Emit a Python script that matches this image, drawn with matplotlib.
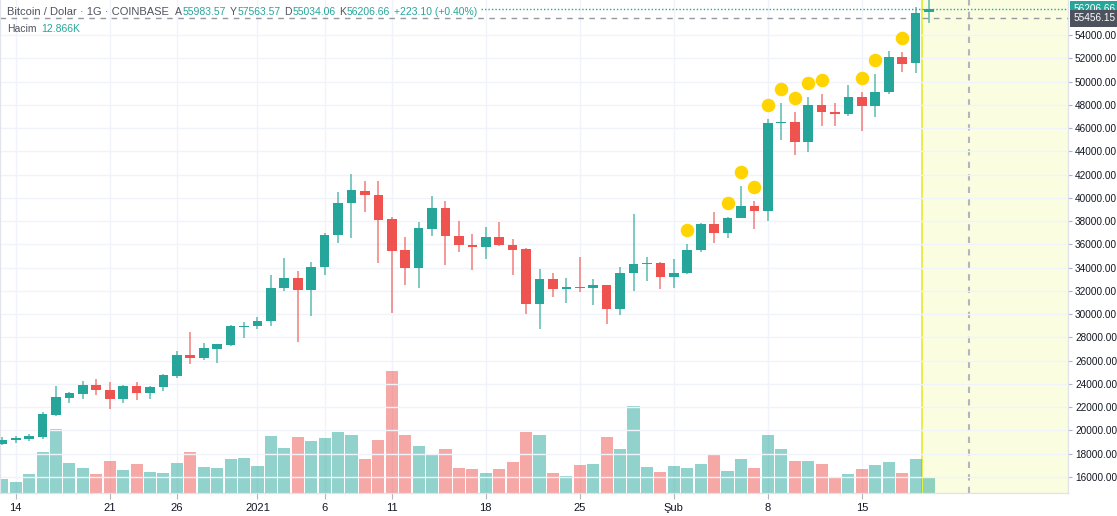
import numpy as np
import pandas as pd
import matplotlib.pyplot as plt
from matplotlib.transforms import blended_transform_factory

plt.rcParams['font.family'] = ['Liberation Sans', 'DejaVu Sans']

# daily candles, Dec 13 2020 .. Feb 20 2021
dates = pd.date_range('2020-12-13', '2021-02-20', freq='D')
opens = [18800, 19133, 19276, 19449, 21313, 22804, 23119, 23864, 23491, 22718,
         23807, 23176, 23692, 24667, 26502, 26244, 27019, 27334, 28882, 28968,
         29427, 32237, 33097, 32036, 34014, 36824, 39519, 40609, 40265, 38144,
         35477, 33986, 37341, 39118, 36738, 35964, 35764, 36624, 35907, 35563,
         30861, 32982, 32122, 32323, 32208, 32495, 30402, 33499, 34272, 34359,
         33155, 33556, 35506, 37714, 36940, 38287, 39262, 38861, 46459, 46517,
         44825, 47979, 47376, 47233, 48638, 47864, 49126, 52136, 51563, 55983.57]
highs = [19450, 19506, 19650, 21600, 23807, 23290, 24266, 24381, 24180, 23893,
         24180, 23807, 24839, 26818, 28424, 27535, 27450, 29054, 29284, 29714,
         33327, 34817, 33699, 34473, 36996, 40466, 42015, 41441, 41441, 38316,
         36595, 37886, 40150, 39720, 38000, 36882, 37455, 37943, 36452, 35649,
         33900, 33499, 33126, 34903, 33011, 32520, 34014, 38574, 34875, 34444,
         34731, 35993, 37800, 38746, 38373, 41011, 39721, 46746, 48179, 47348,
         48696, 48925, 48179, 49699, 49126, 50645, 52624, 52566, 56380, 57563.57]
lows = [18750, 18933, 19076, 19277, 21227, 22316, 22689, 23033, 21857, 22316,
        22603, 22718, 23405, 24466, 25699, 26043, 25814, 27250, 27965, 28681,
        28997, 31979, 27621, 29857, 33327, 36136, 36566, 38775, 34359, 30058,
        32466, 32266, 36710, 34215, 35362, 33785, 34703, 35850, 33327, 30001,
        28681, 31434, 30918, 31921, 30775, 29140, 29886, 31950, 32810, 32179,
        32266, 33413, 35362, 36136, 36567, 38230, 37312, 37999, 44968, 43678,
        43965, 46201, 46201, 47061, 45771, 46975, 48896, 50846, 50703, 55034.06]
closes = [19170, 19305, 19505, 21399, 22832, 23176, 23864, 23434, 22718, 23807,
          23176, 23749, 24753, 26502, 26244, 27076, 27420, 28968, 28997, 29427,
          32237, 33097, 32036, 34014, 36824, 39519, 40637, 40236, 38086, 35448,
          33986, 37370, 39118, 36738, 35964, 35764, 36624, 35907, 35506, 30861,
          32982, 32122, 32323, 32208, 32495, 30402, 33499, 34272, 34330, 33155,
          33556, 35506, 37714, 36940, 38287, 39262, 38861, 46459, 46517, 44825,
          47979, 47376, 47233, 48696, 47864, 49126, 52136, 51506, 55921, 56206.66]
# volume in thousands
volumes = [11.2, 8.8, 15.2, 32.8, 51.8, 24.3, 20.0, 15.2, 25.6, 18.4,
           23.0, 16.5, 15.7, 24.3, 32.8, 21.3, 20.5, 27.2, 28.0, 21.9,
           45.6, 36.0, 44.8, 41.6, 44.5, 48.8, 46.9, 27.0, 42.4, 98.4,
           47.0, 38.1, 31.0, 35.2, 20.5, 19.0, 16.3, 19.0, 24.8, 49.4,
           47.0, 15.7, 13.3, 22.4, 23.2, 44.8, 35.2, 70.1, 21.3, 16.5,
           21.9, 20.3, 23.2, 31.0, 17.6, 27.0, 20.0, 46.7, 35.2, 25.6,
           25.6, 23.0, 12.3, 15.2, 19.0, 22.4, 24.8, 15.7, 27.2, 12.866]

# yellow marker dots
dot_dates = pd.to_datetime(['2021-02-02', '2021-02-05', '2021-02-06', '2021-02-07',
                            '2021-02-08', '2021-02-09', '2021-02-10', '2021-02-11',
                            '2021-02-12', '2021-02-15', '2021-02-16', '2021-02-18'])
dot_prices = [37226, 39522, 42215, 40951, 47979, 49381, 48555, 49845,
              50129, 50275, 51807, 53768]

tick_dates = pd.to_datetime(['2020-12-14', '2020-12-21', '2020-12-26', '2021-01-01',
                             '2021-01-06', '2021-01-11', '2021-01-18', '2021-01-25',
                             '2021-02-01', '2021-02-08', '2021-02-15'])
tick_labels = ['14', '21', '26', '2021', '6', '11', '18', '25', 'Şub', '8', '15']

last_price = 56206.66
line_price = 55456.15

base = pd.Timestamp('2020-12-14')
x = np.array((dates - base).days)
xd = np.array((dot_dates - base).days)
xt = np.array((tick_dates - base).days)

o = np.array(opens)
h = np.array(highs)
l = np.array(lows)
c = np.array(closes)
up = c >= o

GREEN = '#26A69A'
RED = '#EF5350'
GRID = '#F0F3FA'
TEXT = '#131722'
LABEL = '#50535E'

W, H = 1117, 516
fig = plt.figure(figsize=(W / 100, H / 100), dpi=100)
ax_v = fig.add_axes([0, 23 / H, 1068 / W, 493 / H])
ax_p = ax_v.twinx()

ax_v.set_xlim(-1.17, 78.35)
ax_v.set_ylim(0, 396.4)
ax_p.set_ylim(14603, 57011)

# future zone
ax_v.axvspan(67.48, 80, color='#FAFDE0', zorder=0, lw=0)
ax_v.axvline(67.48, color='#E4EF3A', lw=1.3, zorder=1)
ax_v.axvline(71, color='#B2B5BE', lw=1.5, ls=(0, (3, 3)), zorder=1)

# volume
vcol = np.where(up, GREEN, RED)
ax_v.bar(x, volumes, width=0.9, color=vcol, alpha=0.5, zorder=2, lw=0)

# grid
ax_v.set_xticks(xt)
ax_v.grid(axis='x', color=GRID, lw=1)
ax_v.set_axisbelow(True)
ax_p.set_yticks(np.arange(16000, 54001, 2000))
ax_p.grid(axis='y', color=GRID, lw=1)
ax_p.set_axisbelow(True)

# candles
ccol = np.where(up, GREEN, RED)
ax_p.vlines(x, l, h, colors=ccol, lw=1.1, alpha=0.75, zorder=3)
body = np.maximum(np.abs(c - o), 90)
ax_p.bar(x, body, bottom=np.minimum(o, c), width=0.72, color=ccol, lw=0, zorder=4)

ax_p.scatter(xd, dot_prices, s=95, color='#FFD400', zorder=5, lw=0)

# axes styling
for ax in (ax_v, ax_p):
    ax.spines['top'].set_visible(False)
    for s in ['left', 'right', 'bottom']:
        ax.spines[s].set_color('#E0E3EB')
ax_v.tick_params(axis='y', left=False, labelleft=False)
ax_v.tick_params(axis='x', length=4, color='#B2B5BE', labelsize=8,
                 labelcolor=TEXT, pad=3)
ax_v.set_xticklabels(tick_labels)
ax_p.tick_params(axis='y', length=3, color='#B2B5BE', labelsize=7.2,
                 labelcolor=TEXT, pad=2)
ax_p.set_yticklabels([f'{v:.2f}' for v in ax_p.get_yticks()])

# right-hand price labels
tr = blended_transform_factory(ax_p.transAxes, ax_p.transData)
ax_p.text(1.0055, last_price, f'{last_price:.2f}', transform=tr, ha='left', va='center',
          fontsize=7.2, color='white', zorder=6, clip_on=False,
          bbox=dict(boxstyle='square,pad=0.35', fc=GREEN, ec='none'))
ax_p.text(1.0055, line_price, f'{line_price:.2f}', transform=tr, ha='left', va='center',
          fontsize=7.2, color='white', zorder=6, clip_on=False,
          bbox=dict(boxstyle='square,pad=0.35', fc='#4C525E', ec='none'))

# header legend, laid out piece by piece
renderer = fig.canvas.get_renderer()

def line_of(py, pieces, px=7):
    for s, col, size, gap in pieces:
        t = fig.text(px / W, 1 - py / H, s, color=col, fontsize=size,
                     ha='left', va='center')
        px += t.get_window_extent(renderer).width + gap
    return px

end = line_of(12, [('Bitcoin / Dolar · 1G · COINBASE', LABEL, 8, 6),
                   ('A', LABEL, 7.5, 0.5), (f'{opens[-1]:.2f}', GREEN, 7.5, 4),
                   ('Y', LABEL, 7.5, 0.5), (f'{highs[-1]:.2f}', GREEN, 7.5, 4),
                   ('D', LABEL, 7.5, 0.5), (f'{lows[-1]:.2f}', GREEN, 7.5, 4),
                   ('K', LABEL, 7.5, 0.5), (f'{closes[-1]:.2f}', GREEN, 7.5, 4),
                   ('+223.10 (+0.40%)', GREEN, 7.5, 0)])
line_of(29.5, [('Hacim', LABEL, 7.5, 5), (f'{volumes[-1]:.3f}K', GREEN, 7.5, 0)])

# price lines
ax_p.axhline(last_price, xmin=(end + 4) / 1068, color=GREEN, ls=(0, (1, 1.5)),
             lw=1, zorder=2)
ax_p.axhline(line_price, color='#9598A1', ls=(0, (4, 4)), lw=1, zorder=2)

fig.savefig('out.png', dpi=100)
